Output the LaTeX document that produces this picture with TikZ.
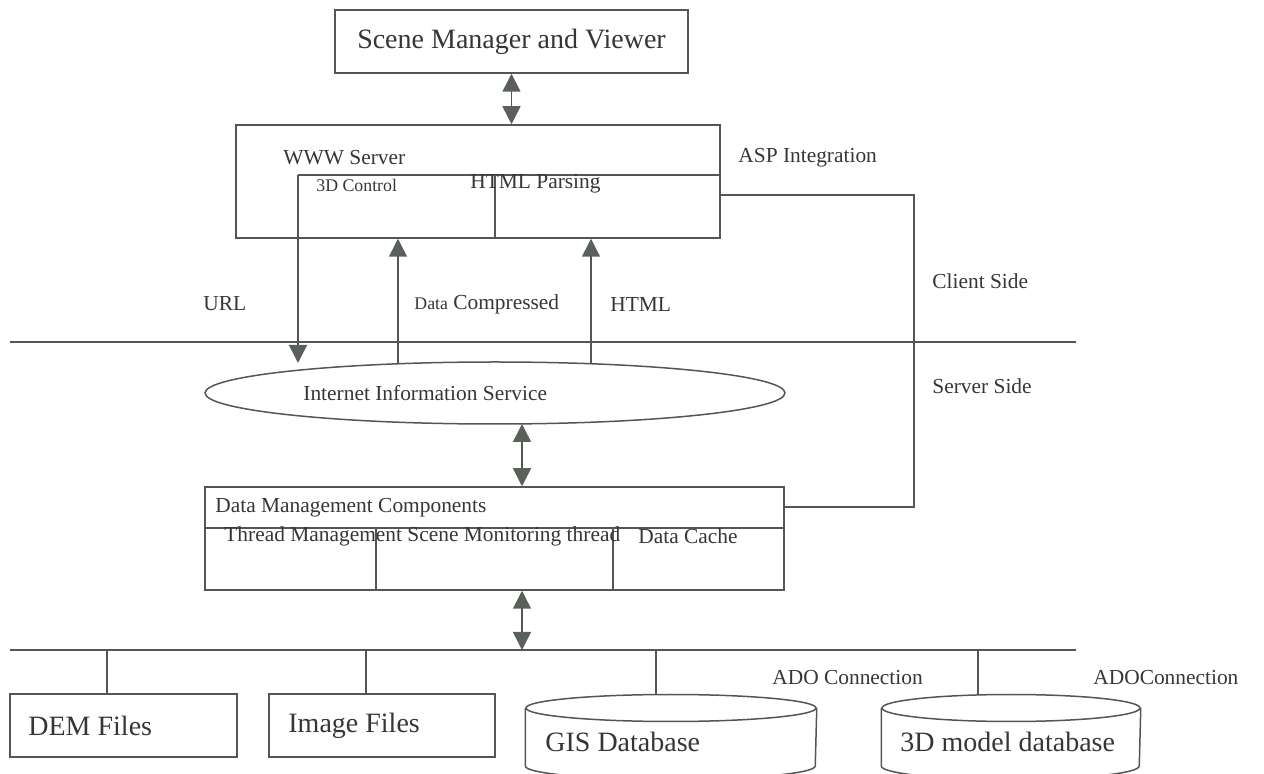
\documentclass[tikz,border=0pt]{standalone}
\usepackage{fontspec}
\setmainfont{Liberation Serif}
\usetikzlibrary{arrows.meta,shapes.geometric}
\definecolor{ln}{HTML}{555555}
\definecolor{hd}{HTML}{5A605A}
\definecolor{tx}{HTML}{363636}
\begin{document}
\begin{tikzpicture}[x=0.5pt,y=-0.5pt,
  every node/.style={text=tx},
  line/.style={draw=ln,line width=0.75pt},
  boxnode/.style={draw=ln,line width=0.75pt,inner sep=0pt,rectangle},
  lbl/.style={anchor=west,inner sep=0pt,font=\fontsize{10.7pt}{12pt}\selectfont},
  biglbl/.style={anchor=west,inner sep=0pt,font=\fontsize{14pt}{16pt}\selectfont},
  smalllbl/.style={anchor=west,inner sep=0pt,font=\fontsize{8.9pt}{10pt}\selectfont},
  tip/.style={-{Triangle[width=9pt,length=9pt,color=hd]}},
  dtip/.style={{Triangle[width=9pt,length=9pt,color=hd]}-{Triangle[width=9pt,length=9pt,color=hd]}}
]
\useasboundingbox (0,0) rectangle (1264,774);
\clip (0,0) rectangle (1264,774);

% Scene manager
\node[boxnode,minimum width=176.5pt,minimum height=31.5pt,font=\fontsize{14pt}{16pt}\selectfont] (scene) at (511.5,41.5) {Scene Manager and Viewer};

% WWW server box
\node[boxnode,minimum width=242pt,minimum height=56.5pt] (www) at (478,181.5) {};
\coordinate (wwwin) at (298,175);
\coordinate (wwwdivt) at (495,175);
\draw[line] (wwwin) -- (www.east |- wwwin);
\draw[line] (wwwdivt) -- (wwwdivt |- www.south);
\node[lbl] (wwwt) at (283,158) {WWW Server};
\node[smalllbl] (ctrl) at (316,185) {3D Control};
\node[lbl] (parse) at (470,184) {HTML Parsing};
\node[lbl] (asp) at (738,158) {ASP Integration};

\draw[line,dtip] (scene.south) -- (scene.south |- www.north);

% IIS ellipse
\node[ellipse,draw=ln,line width=0.75pt,minimum width=290pt,minimum height=31pt,inner sep=0pt] (iis) at (495,393) {};
\node[lbl] (iist) at (303,393) {Internet Information Service};

% connectors WWW <-> IIS
\coordinate (urlend) at (298,363);
\draw[line,tip] (wwwin) -- (urlend);
\coordinate (dcs) at (398,364);
\coordinate (hts) at (591,364);
\draw[line,tip] (dcs) -- (dcs |- www.south);
\draw[line,tip] (hts) -- (hts |- www.south);
\node[lbl] (url) at (203,304) {URL};
\node[lbl] (dc) at (414,304) {{\fontsize{8.9pt}{10pt}\selectfont Data} Compressed};
\node[lbl] (html) at (610,304) {HTML};

% client/server divider
\coordinate (csl) at (10,342);
\coordinate (csr) at (1076,342);
\draw[line] (csl) -- (csr);
\node[lbl] (client) at (932,281) {Client Side};
\node[lbl] (server) at (932,386) {Server Side};

% Data management box
\node[boxnode,minimum width=289.5pt,minimum height=51.5pt] (dmc) at (494.5,538.5) {};
\coordinate (dmcin) at (205,528);
\draw[line] (dmcin) -- (dmc.east |- dmcin);
\coordinate (d1) at (376,528);
\coordinate (d2) at (613,528);
\draw[line] (d1) -- (d1 |- dmc.south);
\draw[line] (d2) -- (d2 |- dmc.south);
\node[lbl] (dmct) at (215,508) {Data Management Components};
\node[lbl] (thr) at (224,536) {Thread Management Scene Monitoring thread};
\node[lbl] (cache) at (638,536) {Data Cache};

% right connector
\coordinate (rc1) at (914,195);
\coordinate (rc2) at (914,507);
\draw[line] (www.east |- rc1) -- (rc1) -- (rc2) -- (dmc.east |- rc2);

% double arrows
\coordinate (a2) at (522,424);
\draw[line,dtip] (a2) -- (a2 |- dmc.north);
\coordinate (bus) at (522,650);
\draw[line,dtip] (a2 |- dmc.south) -- (bus);

% bottom bus
\coordinate (bl) at (10,650);
\coordinate (br) at (1076,650);
\draw[line] (bl) -- (br);

% files
\node[boxnode,minimum width=113.5pt,minimum height=31.5pt] (dem) at (123.5,725.5) {};
\node[biglbl] (demt) at (28,726) {DEM Files};
\node[boxnode,minimum width=113pt,minimum height=31.5pt] (img) at (382,725.5) {};
\node[biglbl] (imgt) at (288,726) {Image Files};
\coordinate (s1) at (107,650);
\coordinate (s2) at (366,650);
\draw[line] (s1) -- (s1 |- dem.north);
\draw[line] (s2) -- (s2 |- img.north);

% databases (cylinders)
\node[ellipse,draw=ln,line width=0.75pt,minimum width=145pt,minimum height=13.5pt,inner sep=0pt] (gis) at (671,708) {};
\draw[line] (gis.west) -- ++(0,58) arc[start angle=180,end angle=0,x radius=145,y radius=13.5] -- (gis.east);
\node[biglbl] (gist) at (545,742) {GIS Database};
\node[ellipse,draw=ln,line width=0.75pt,minimum width=129pt,minimum height=13.5pt,inner sep=0pt] (mdl) at (1011,708) {};
\draw[line] (mdl.west) -- ++(0,58) arc[start angle=180,end angle=0,x radius=129,y radius=13.5] -- (mdl.east);
\node[biglbl] (mdlt) at (900,742) {3D model database};
\coordinate (s3) at (656,650);
\coordinate (s4) at (978,650);
\draw[line] (s3) -- (s3 |- gis.north);
\draw[line] (s4) -- (s4 |- mdl.north);
\node[lbl] (ado1) at (772,678) {ADO Connection};
\node[lbl] (ado2) at (1093,678) {ADOConnection};
\end{tikzpicture}
\end{document}
